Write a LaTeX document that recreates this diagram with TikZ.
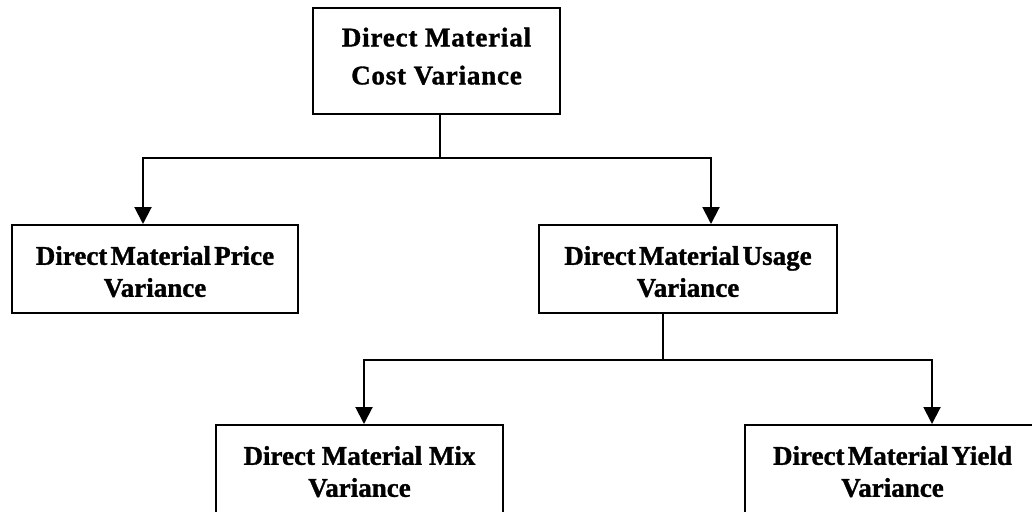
\documentclass[tikz,border=0pt]{standalone}
\usepackage{fontspec}
\setmainfont{Liberation Serif}
\usetikzlibrary{arrows.meta}
% heavy bold face used for all box labels
\newfontfamily\labelfont[BoldFeatures={FakeBold=1.2}]{Liberation Serif}
\newfontfamily\rootfont[LetterSpace=3,BoldFeatures={FakeBold=1.2}]{Liberation Serif}
\newcommand\tightwords{\spaceskip=0.12em\relax}
\newcommand\topstrut{\rule{0pt}{24pt}}
\begin{document}
\begin{tikzpicture}[x=1pt,y=-1pt,
  box/.style={draw,line width=2pt,rectangle,align=center,inner sep=0pt,
    font={\labelfont\fontsize{27}{32}\selectfont\bfseries}},
  rootbox/.style={box,font={\rootfont\fontsize{27}{38}\selectfont\bfseries}},
  tightbox/.style={box,font={\labelfont\fontsize{27}{32}\selectfont\bfseries\tightwords}},
  link/.style={line width=2pt},
  arrowlink/.style={link,-{Triangle[width=17pt,length=17pt]}}]
\clip (0,0) rectangle (1032,511);

% boxes
\node[rootbox,minimum width=247pt,minimum height=106pt] (cost) at (436.5,61)
  {Direct Material\\Cost Variance\rule[-10pt]{0pt}{0pt}};
\node[tightbox,minimum width=286pt,minimum height=88pt] (price) at (155,269)
  {\topstrut Direct Material Price\\Variance};
\node[tightbox,minimum width=298pt,minimum height=88pt] (usage) at (688,269)
  {\topstrut Direct Material Usage\\Variance};
\node[box,minimum width=287pt,minimum height=88pt] (mix) at (359.5,469)
  {\topstrut Direct Material Mix\\Variance};
\node[tightbox,minimum width=295pt,minimum height=88pt] (yield) at (892.5,469)
  {\topstrut Direct Material Yield\\Variance};

% first level connectors
\coordinate (costout) at (440,114);
\coordinate (split1) at (440,158);
\draw[link] (costout) -- (split1);
\draw[arrowlink] (split1) -| (price.north -| 143,0);
\draw[arrowlink] (split1) -| (usage.north -| 711,0);

% second level connectors
\coordinate (usageout) at (663,313);
\coordinate (split2) at (663,360);
\draw[link] (usageout) -- (split2);
\draw[arrowlink] (split2) -| (mix.north -| 364,0);
\draw[arrowlink] (split2) -| (yield.north -| 932,0);
\end{tikzpicture}
\end{document}
